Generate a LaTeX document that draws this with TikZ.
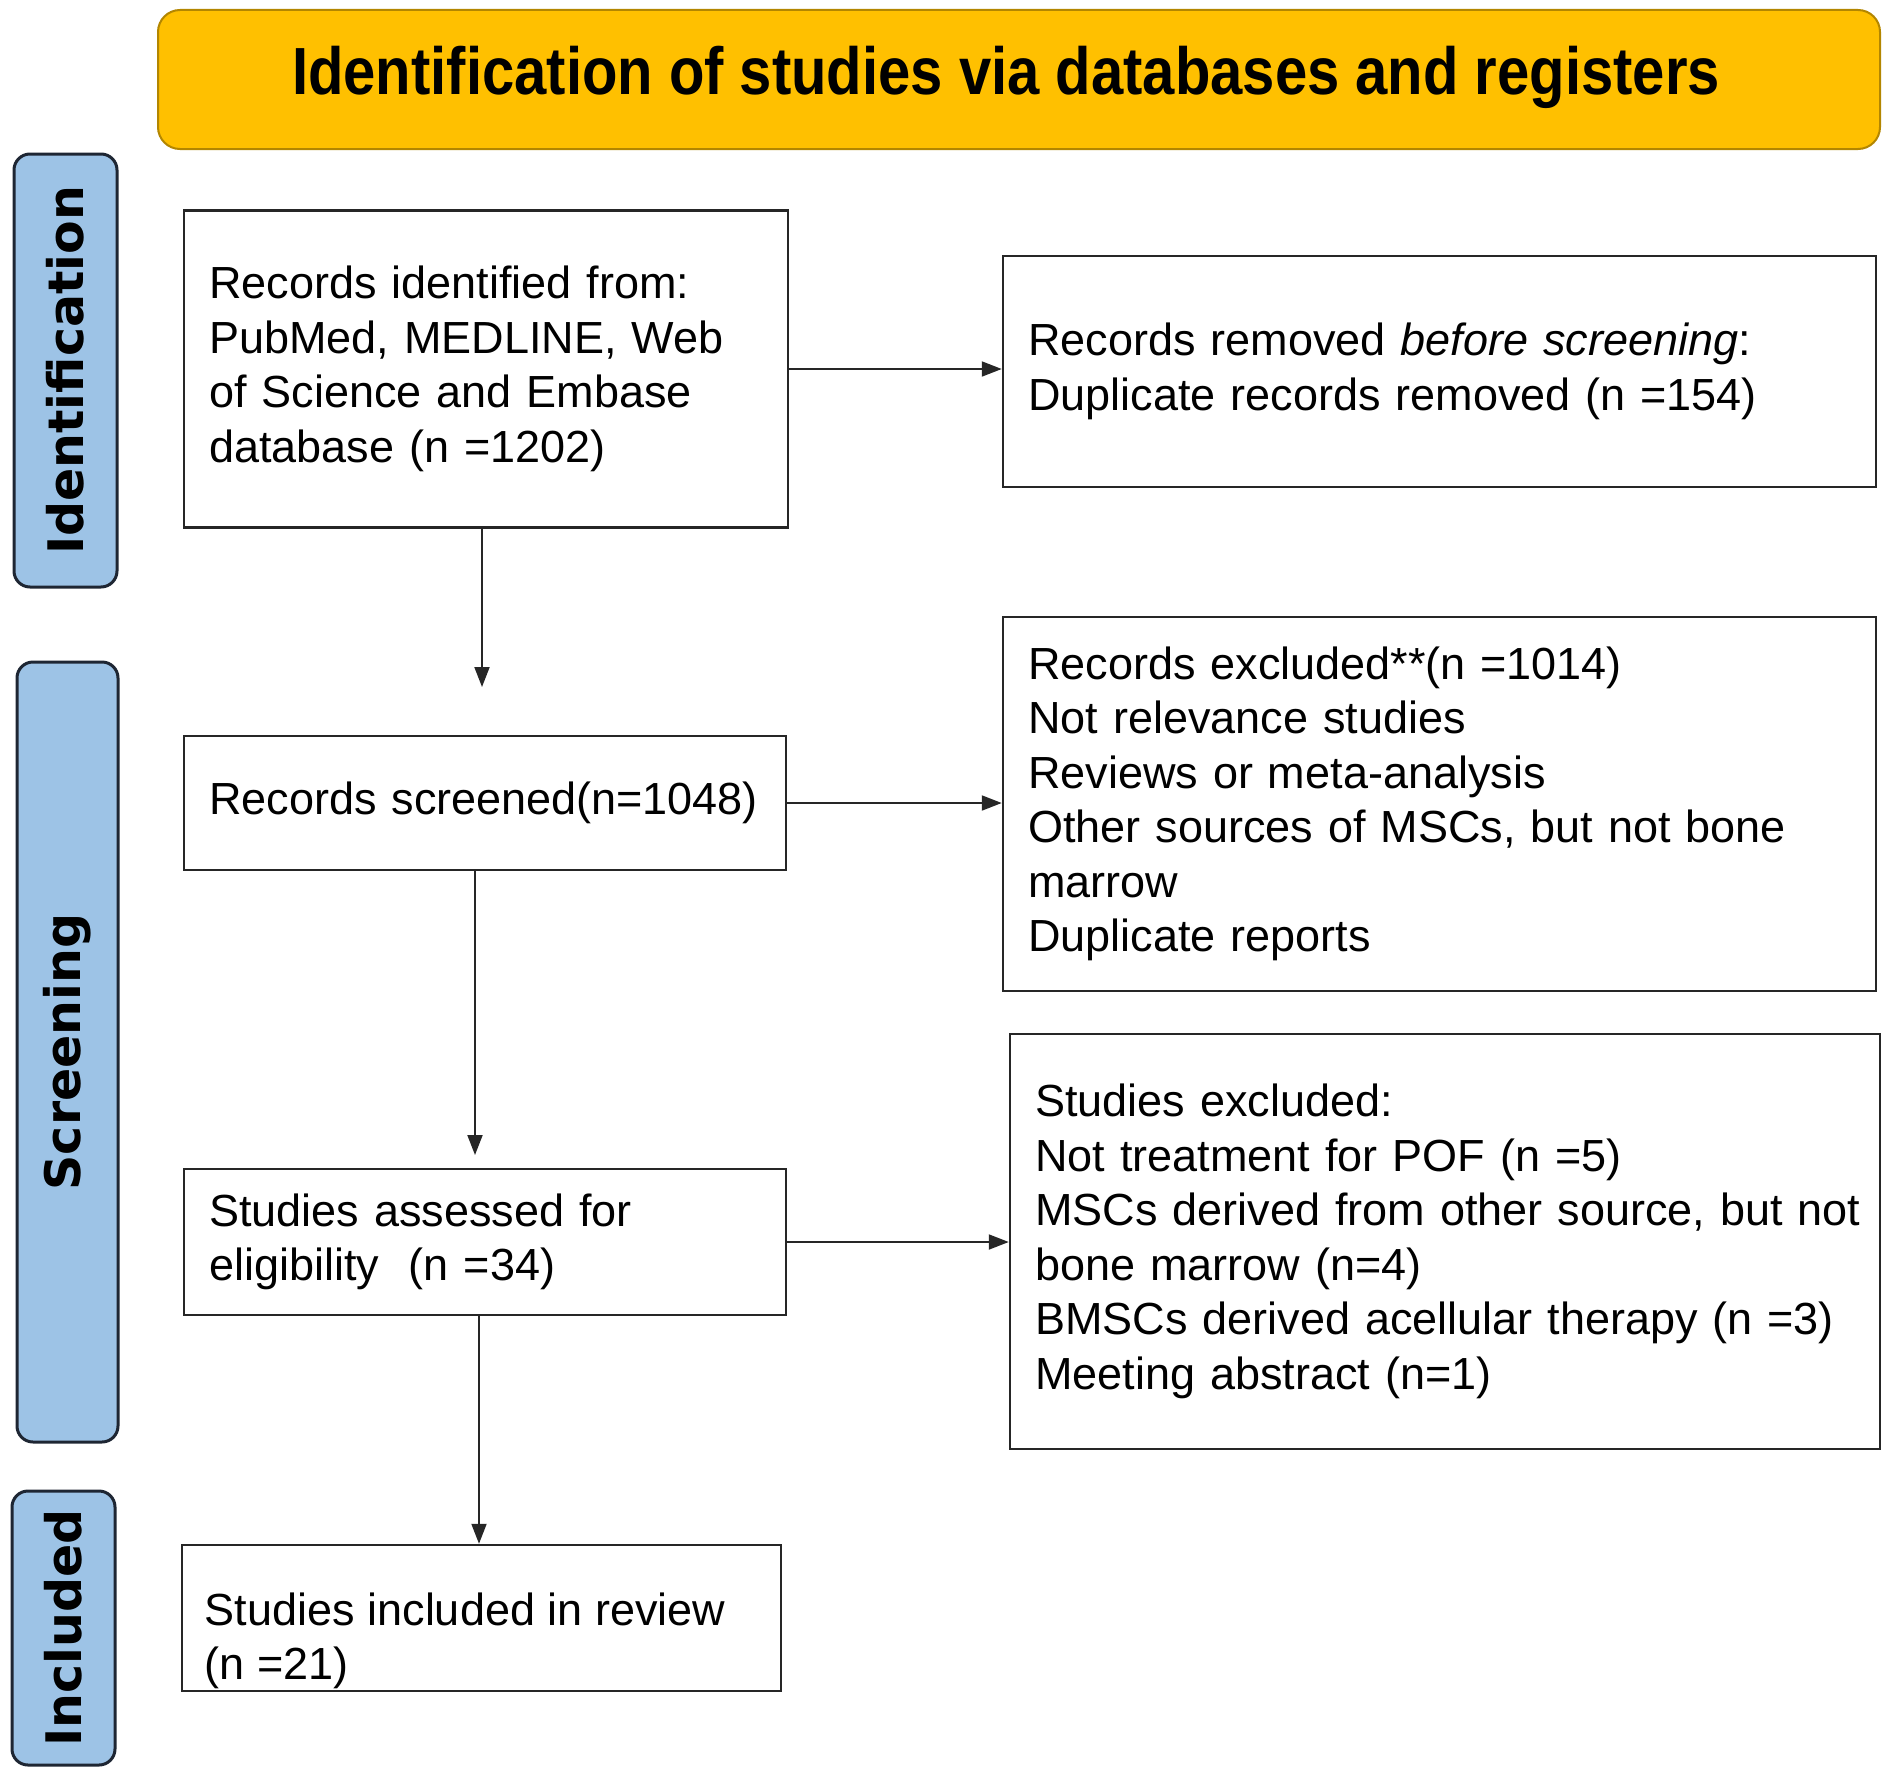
\documentclass[tikz,border=0pt]{standalone}
\usepackage{fontspec}
\setmainfont{Liberation Sans}
\newfontfamily\sidefont{DejaVu Sans}
\usetikzlibrary{arrows.meta,calc}
\definecolor{gold}{HTML}{FFC000}
\definecolor{golddark}{HTML}{B38600}
\definecolor{sideblue}{HTML}{9DC3E6}
\definecolor{sideedge}{HTML}{1E2633}
\begin{document}
\begin{tikzpicture}[x=1pt,y=-1pt,
  box/.style={draw=black!85, line width=2.5pt, align=left, inner xsep=25pt, inner ysep=0pt,
    font=\fontsize{45}{54.5}\selectfont},
  side/.style={draw=sideedge, fill=sideblue, line width=3pt, rounded corners=16pt, rotate=90,
    inner sep=0pt, font=\sidefont\bfseries\fontsize{49}{50}\selectfont},
  arr/.style={draw=black!85, line width=2pt, -{Triangle[length=20pt,width=15pt]}},
]
\useasboundingbox (0,0) rectangle (1890,1777);

% header
\node[draw=golddark, fill=gold, line width=2pt, rounded corners=22pt,
  minimum width=1722pt, minimum height=139pt, inner sep=0pt] (hdr) at (1019,79.5) {};
\node[font=\bfseries\fontsize{58}{60}\selectfont, inner sep=0pt] (hdrtxt) at (1006,77)
  {\scalebox{1}[1.15]{Identification of studies via databases and registers}};

% side labels
\node[side, minimum width=433pt, minimum height=103pt] (idl) at (65.5,370.5) {Identification};
\node[side, minimum width=780pt, minimum height=101pt] (scl) at (67.5,1052) {Screening};
\node[side, minimum width=274pt, minimum height=103pt] (inl) at (63.5,1628) {Included};

% boxes
\node[box, minimum width=604pt, minimum height=317pt, text width=554pt] (rec) at (486,369)
  {Records identified from:\\PubMed, MEDLINE, Web\\of Science and Embase\\database (n =1202)};
\node[box, minimum width=873pt, minimum height=231pt, text width=823pt] (rem) at (1439.5,371.5)
  {Records removed \textit{before screening}:\\Duplicate records removed (n =154)};
\node[box, minimum width=602pt, minimum height=134pt, text width=552pt] (scr) at (485,803)
  {Records screened(n=1048)};
\node[box, minimum width=873pt, minimum height=374pt, text width=823pt] (exc) at (1439.5,804)
  {Records excluded**(n =1014)\\Not relevance studies\\Reviews or meta-analysis\\Other sources of MSCs, but not bone\\marrow\\Duplicate reports};
\node[box, minimum width=602pt, minimum height=146pt, text width=552pt] (ass) at (485,1242)
  {Studies assessed for\\eligibility~~(n =34)};
\node[box, minimum width=870pt, minimum height=415pt, text width=820pt] (sex) at (1445,1241.5)
  {Studies excluded:\\Not treatment for POF (n =5)\\\mbox{MSCs derived from other source, but not}\\bone marrow (n=4)\\BMSCs derived acellular therapy (n =3)\\Meeting abstract (n=1)};
\node[box, minimum width=599pt, minimum height=146pt] (inc) at (481.5,1618)
  {};
\node[anchor=west, align=left, inner sep=0pt, font=\fontsize{45}{54.5}\selectfont] (inctxt)
  at ($(inc.west)+(24,23)$) {Studies included in review\\(n =21)};

% connectors
\coordinate (a1) at (482,687);
\coordinate (a2) at (475,1155);
\coordinate (a3) at (479,0);
\draw[arr] (rec.east) -- (rec.east -| rem.west);
\draw[arr] (rec.south -| a1) -- (a1);
\draw[arr] (scr.east) -- (scr.east -| exc.west);
\draw[arr] (scr.south -| a2) -- (a2);
\draw[arr] (ass.east) -- (ass.east -| sex.west);
\draw[arr] (ass.south -| a3) -- (inc.north -| a3);
\end{tikzpicture}
\end{document}
